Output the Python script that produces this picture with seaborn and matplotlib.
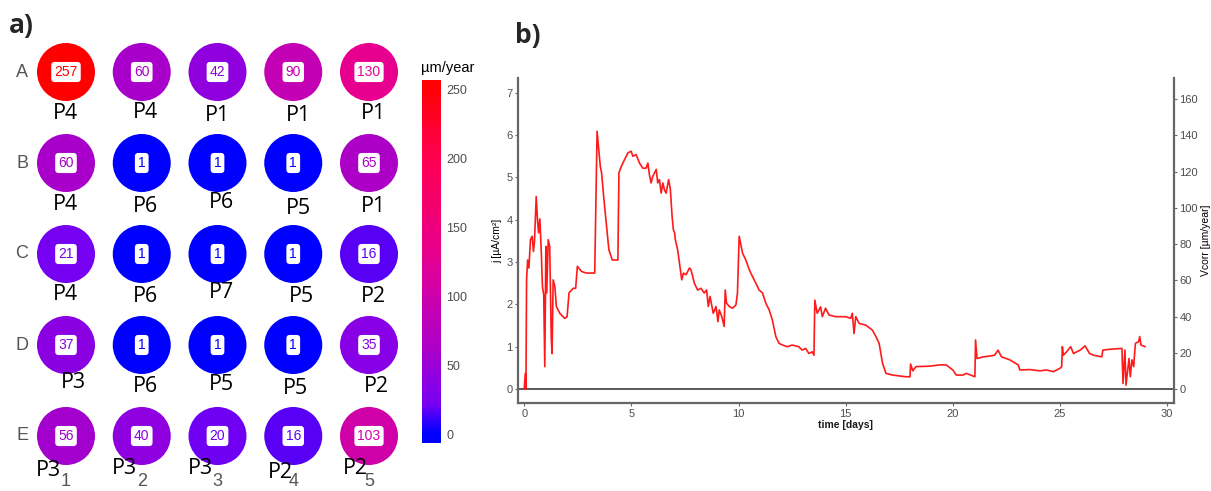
import numpy as np
import matplotlib
matplotlib.use("Agg")
import matplotlib.pyplot as plt
import matplotlib.colors as mcolors
import pandas as pd
import seaborn as sns

# ---- data: panel a (corrosion rate per well, um/year) ----
rows = ["A", "B", "C", "D", "E"]
cols = [1, 2, 3, 4, 5]
rate = [[257, 60, 42, 90, 130],
        [60, 1, 1, 1, 65],
        [21, 1, 1, 1, 16],
        [37, 1, 1, 1, 35],
        [56, 40, 20, 16, 103]]
pattern = [["P4", "P4", "P1", "P1", "P1"],
           ["P4", "P6", "P6", "P5", "P1"],
           ["P4", "P6", "P7", "P5", "P2"],
           ["P3", "P6", "P5", "P5", "P2"],
           ["P3", "P3", "P3", "P2", "P2"]]
cbar_ticks = [0, 50, 100, 150, 200, 250]

# ---- data: panel b (current density vs time) ----
time_days = [0.00, 0.05, 0.08, 0.11, 0.16, 0.22, 0.29, 0.37, 0.43, 0.48, 0.56, 0.62, 0.67,
             0.73, 0.76, 0.81, 0.85, 0.91, 0.96, 1.01, 1.05, 1.12, 1.19, 1.26, 1.30, 1.35,
             1.43, 1.50, 1.66, 1.89, 2.00, 2.09, 2.28, 2.40, 2.48, 2.67, 2.90, 3.29, 3.40,
             3.55, 3.61, 3.72, 3.86, 3.95, 4.11, 4.37, 4.42, 4.53, 4.68, 4.84, 4.99, 5.07,
             5.22, 5.38, 5.53, 5.69, 5.77, 5.84, 5.92, 6.00, 6.16, 6.23, 6.31, 6.39, 6.47,
             6.54, 6.62, 6.74, 6.82, 6.90, 6.96, 7.02, 7.05, 7.16, 7.35, 7.43, 7.55, 7.71,
             7.78, 7.94, 8.09, 8.25, 8.40, 8.51, 8.59, 8.67, 8.76, 8.82, 8.95, 9.04, 9.10,
             9.22, 9.33, 9.38, 9.44, 9.57, 9.72, 9.88, 9.95, 10.03, 10.19, 10.34, 10.50,
             10.65, 10.81, 10.96, 11.12, 11.27, 11.43, 11.58, 11.74, 11.89, 12.05, 12.28,
             12.50, 12.81, 12.97, 13.13, 13.28, 13.44, 13.52, 13.56, 13.67, 13.83, 13.91,
             14.06, 14.22, 14.53, 15.00, 15.23, 15.31, 15.39, 15.47, 15.63, 15.94, 16.25,
             16.41, 16.56, 16.72, 16.88, 17.19, 17.81, 18.00, 18.03, 18.13, 18.28, 18.91,
             19.38, 19.69, 20.00, 20.16, 20.47, 20.63, 21.03, 21.06, 21.13, 21.41, 21.72,
             21.95, 22.11, 22.27, 22.66, 23.05, 23.13, 23.59, 24.06, 24.38, 24.69, 25.00,
             25.08, 25.11, 25.16, 25.31, 25.50, 25.63, 25.94, 26.17, 26.38, 26.56, 26.95,
             27.00, 27.34, 27.89, 27.94, 28.03, 28.08, 28.22, 28.28, 28.36, 28.44, 28.47,
             28.52, 28.67, 28.72, 28.78, 28.98]
j_uA = [0.00, 0.37, 0.00, 2.58, 3.05, 2.86, 3.53, 3.61, 3.25, 3.49, 4.55, 4.00, 3.69,
        4.02, 3.69, 3.05, 2.42, 2.23, 0.53, 3.37, 2.27, 3.53, 3.37, 1.24, 0.84, 2.58,
        2.42, 1.95, 1.79, 1.67, 1.71, 2.27, 2.38, 2.38, 2.90, 2.78, 2.74, 2.74, 6.09,
        5.26, 5.11, 4.48, 3.76, 3.29, 3.05, 3.05, 5.11, 5.26, 5.42, 5.58, 5.62, 5.50,
        5.54, 5.34, 5.22, 5.22, 5.34, 5.07, 4.87, 5.03, 5.19, 4.87, 4.95, 4.63, 4.87,
        4.71, 4.63, 4.95, 4.71, 4.08, 3.76, 3.69, 3.53, 3.29, 2.58, 2.74, 2.70, 2.86,
        2.82, 2.50, 2.34, 2.38, 2.27, 2.34, 1.95, 2.19, 1.95, 1.79, 1.95, 1.59, 1.87,
        1.71, 1.48, 2.34, 2.03, 1.95, 1.91, 1.99, 2.27, 3.61, 3.21, 3.05, 2.82,
        2.66, 2.50, 2.34, 2.27, 2.03, 1.87, 1.63, 1.24, 1.08, 1.04, 1.00,
        1.04, 1.00, 0.92, 0.96, 0.84, 0.88, 0.80, 2.10, 1.79, 1.94, 1.71,
        1.91, 1.75, 1.71, 1.71, 1.67, 1.79, 1.31, 1.71, 1.55, 1.51, 1.39,
        1.24, 1.08, 0.61, 0.37, 0.33, 0.29, 0.29, 0.59, 0.43, 0.53, 0.54,
        0.57, 0.57, 0.45, 0.33, 0.33, 0.37, 0.29, 1.16, 0.72, 0.76, 0.78,
        0.80, 0.92, 0.76, 0.69, 0.57, 0.45, 0.46, 0.43, 0.45, 0.41, 0.49,
        0.53, 1.00, 0.80, 0.88, 1.00, 0.84, 0.92, 1.02, 0.84, 0.80, 0.76,
        0.92, 0.94, 0.96, 0.13, 0.92, 0.09, 0.72, 0.29, 0.69, 0.53, 0.76,
        1.08, 1.12, 1.24, 1.04, 1.00]
j_to_vcorr = 23.36  # um/year per uA/cm2
left_ticks = [0, 1, 2, 3, 4, 5, 6, 7]
right_ticks = [0, 20, 40, 60, 80, 100, 120, 140, 160]
x_ticks = [0, 5, 10, 15, 20, 25, 30]

# P-label offsets from circle centre (pixels, x right / y down)
p_offsets = [[(-1, 41), (4, 40), (0, 43), (5, 43), (4, 41)],
             [(-1, 41), (4, 44), (4, 40), (5, 45), (4, 44)],
             [(-1, 41), (4, 42), (4, 39), (8, 42), (4, 42)],
             [(7, 37), (4, 42), (4, 40), (2, 44), (7, 42)],
             [(-18, 35), (-17, 33), (-17, 33), (-13, 36), (-14, 32)]]

# blue -> purple -> pink -> red gradient (colour stops picked off the figure)
cmap = mcolors.LinearSegmentedColormap.from_list("bluered", [
    (0.00, "#0000FF"), (0.08, "#7800F2"), (0.16, "#9000DE"), (0.23, "#A800CA"),
    (0.35, "#C400B4"), (0.50, "#E60090"), (0.78, "#FF0050"), (1.00, "#FF0000")])

sns.set_theme(style="white")
plt.rcParams["font.family"] = ["Liberation Sans", "DejaVu Sans"]

W, H = 1211, 491
fig = plt.figure(figsize=(W / 100, H / 100), dpi=100)

vmin, vmax = min(min(r) for r in rate), max(max(r) for r in rate)
norm = mcolors.Normalize(vmin=vmin, vmax=vmax, clip=True)

# ---------------- panel a ----------------
col_px = 75.75
row_px = 91.0
axa = fig.add_axes([0, 0, 420 / W, 451 / H])
axa.set_xlim(1 - 66 / col_px, 1 + 354 / col_px)
axa.set_ylim(1 + 419 / row_px, 1 - 32 / row_px)
axa.axis("off")

df = pd.DataFrame([(c, r + 1, rate[r][c - 1]) for r in range(5) for c in cols],
                  columns=["col", "row", "rate"])
sns.scatterplot(data=df, x="col", y="row", hue="rate", palette=cmap, hue_norm=norm,
                s=1744, linewidth=0, legend=False, ax=axa)

for r in range(5):
    for c in cols:
        v = rate[r][c - 1]
        axa.text(c, r + 1, str(v), ha="center", va="center", fontsize=10,
                 color=cmap(norm(v)),
                 bbox=dict(boxstyle="round,pad=0.22,rounding_size=0.25", fc="white", ec="none"))
        dx, dy = p_offsets[r][c - 1]
        axa.annotate(pattern[r][c - 1], (c, r + 1), xytext=(dx * 0.72, -dy * 0.72),
                     textcoords="offset points", ha="center", va="center",
                     fontsize=15.5, color="black", family=["Open Sans", "DejaVu Sans"])
for r, lab in enumerate(rows):
    axa.text(1 - 44 / col_px, r + 1, lab, ha="center", va="center", fontsize=13, color="#555555")
for c in cols:
    axa.text(c, 1 + 410 / row_px, str(c), ha="center", va="center", fontsize=13, color="#555555")

fig.text(9 / W, 1 - 26 / H, "a)", fontsize=19, fontweight="bold", ha="left", va="center",
         family=["Open Sans", "DejaVu Sans"])

# colorbar (bar runs a little below 0, colours clip to blue there)
cb_lo, cb_hi = -6, vmax
cax = fig.add_axes([422 / W, 1 - 443 / H, 19 / W, 363 / H])
bar_cmap = mcolors.ListedColormap(cmap(norm(np.linspace(cb_lo, cb_hi, 256))))
sm = plt.cm.ScalarMappable(norm=mcolors.Normalize(cb_lo, cb_hi), cmap=bar_cmap)
cb = fig.colorbar(sm, cax=cax, ticks=cbar_ticks)
cb.outline.set_visible(False)
cax.yaxis.set_ticks_position("both")
cax.tick_params(axis="y", direction="in", length=4, width=0.8, color="white",
                labelsize=9, labelcolor="#4D4D4D", pad=4, labelright=True, labelleft=False)
cax.set_title("µm/year", fontsize=10.5, color="black", pad=6, loc="left", x=-0.05)

# ---------------- panel b ----------------
axb = fig.add_axes([518 / W, 1 - 403 / H, 656 / W, 325 / H])
line_df = pd.DataFrame({"time": time_days, "j": j_uA})
sns.lineplot(data=line_df, x="time", y="j", sort=False, estimator=None,
             color="#FF1A1A", linewidth=1.2, ax=axb)
axb.axhline(0, color="#595959", linewidth=1.4, zorder=1)
x0, x1 = -0.29, 30.32
y0, y1 = -0.33, 7.35
axb.set_xlim(x0, x1)
axb.set_ylim(y0, y1)
axb.set_xticks(x_ticks)
axb.set_yticks(left_ticks)
axb.set_xlabel("time [days]", fontsize=7.5, fontweight="bold", color="#1a1a1a", labelpad=1)
axb.set_ylabel("j [µA/cm²]", fontsize=7.5, color="black", labelpad=3)

axr = axb.twinx()
axr.set_ylim(y0 * j_to_vcorr, y1 * j_to_vcorr)
axr.set_yticks(right_ticks)
axr.set_ylabel("Vcorr [µm/year]", fontsize=7.5, color="black", rotation=90, labelpad=2)

for ax in (axb, axr):
    for s in ax.spines.values():
        s.set_visible(False)
    ax.tick_params(length=2.5, width=0.8, color="#666666", labelsize=8,
                   labelcolor="#4D4D4D", pad=1.5)
for side in ("left", "bottom"):
    axb.spines[side].set_visible(True)
    axb.spines[side].set_color("#666666")
    axb.spines[side].set_linewidth(1.6)
axr.spines["right"].set_visible(True)
axr.spines["right"].set_color("#666666")
axr.spines["right"].set_linewidth(1.6)
axb.tick_params(axis="both", which="both", left=True, bottom=True)
axr.tick_params(axis="y", right=True)

fig.text(515 / W, 1 - 35 / H, "b)", fontsize=19, fontweight="bold", ha="left", va="center",
         family=["Open Sans", "DejaVu Sans"])

fig.savefig("out.png", dpi=100)
